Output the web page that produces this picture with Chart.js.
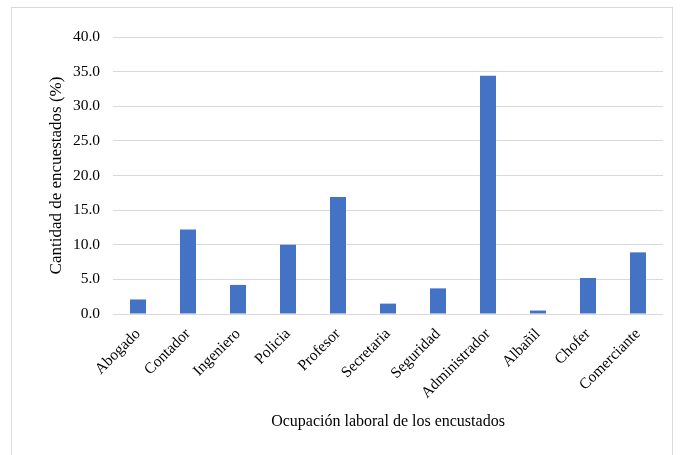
<!DOCTYPE html>
<html>
<head>
<meta charset="utf-8">
<script src="https://cdn.jsdelivr.net/npm/chart.js@4"></script>
<style>
  body { margin: 0; background: #fff; }
  #wrap { position: relative; width: 680px; height: 455px; overflow: hidden; }
  #box { position: absolute; left: 11px; top: 7px; width: 660px; height: 470px; border: 1px solid #d9d9d9; }
  canvas { position: absolute; left: 0; top: 0; }
</style>
</head>
<body>
<div id="wrap">
  <div id="box"></div>
  <canvas id="chart" width="680" height="455"></canvas>
</div>
<script>
// categorias y valores (%)
const ocupaciones = ["Abogado", "Contador", "Ingeniero", "Policia", "Profesor", "Secretaria",
  "Seguridad", "Administrador", "Albañil", "Chofer", "Comerciante"];
const porcentajes = [2.1, 12.2, 4.2, 10.0, 16.9, 1.5, 3.7, 34.4, 0.5, 5.2, 8.9];

const fuente = "'Liberation Serif', 'Times New Roman', serif";

const ctx = document.getElementById("chart").getContext("2d");
new Chart(ctx, {
  type: "bar",
  data: {
    labels: ocupaciones,
    datasets: [{
      data: porcentajes,
      backgroundColor: "#4472c4",
      barPercentage: 0.32,
      categoryPercentage: 1,
    }],
  },
  options: {
    responsive: false,
    animation: false,
    layout: { padding: { left: 0, right: 17, top: 37, bottom: 0 } },
    plugins: {
      legend: { display: false },
      tooltip: { enabled: false },
    },
    scales: {
      x: {
        grid: { display: false },
        border: { display: false },
        ticks: {
          color: "#000",
          font: { family: fuente, size: 15.5 },
          maxRotation: 45,
          minRotation: 45,
          padding: 3,
        },
        title: {
          display: true,
          text: "Ocupación laboral de los encustados",
          color: "#000",
          font: { family: fuente, size: 16 },
          padding: { top: 0, bottom: 24 },
        },
        afterFit: (scale) => { scale.height = 141; },
      },
      y: {
        min: 0,
        max: 40,
        ticks: {
          stepSize: 5,
          color: "#000",
          font: { family: fuente, size: 15.5 },
          padding: 13,
          callback: (v) => v.toFixed(1),
        },
        grid: { color: "#d9d9d9", drawTicks: false },
        border: { display: false },
        title: {
          display: true,
          text: "Cantidad de encuestados (%)",
          color: "#000",
          font: { family: fuente, size: 17 },
          padding: { top: 46, bottom: 0 },
        },
        afterFit: (scale) => { scale.width = 113; },
      },
    },
  },
});
</script>
</body>
</html>
